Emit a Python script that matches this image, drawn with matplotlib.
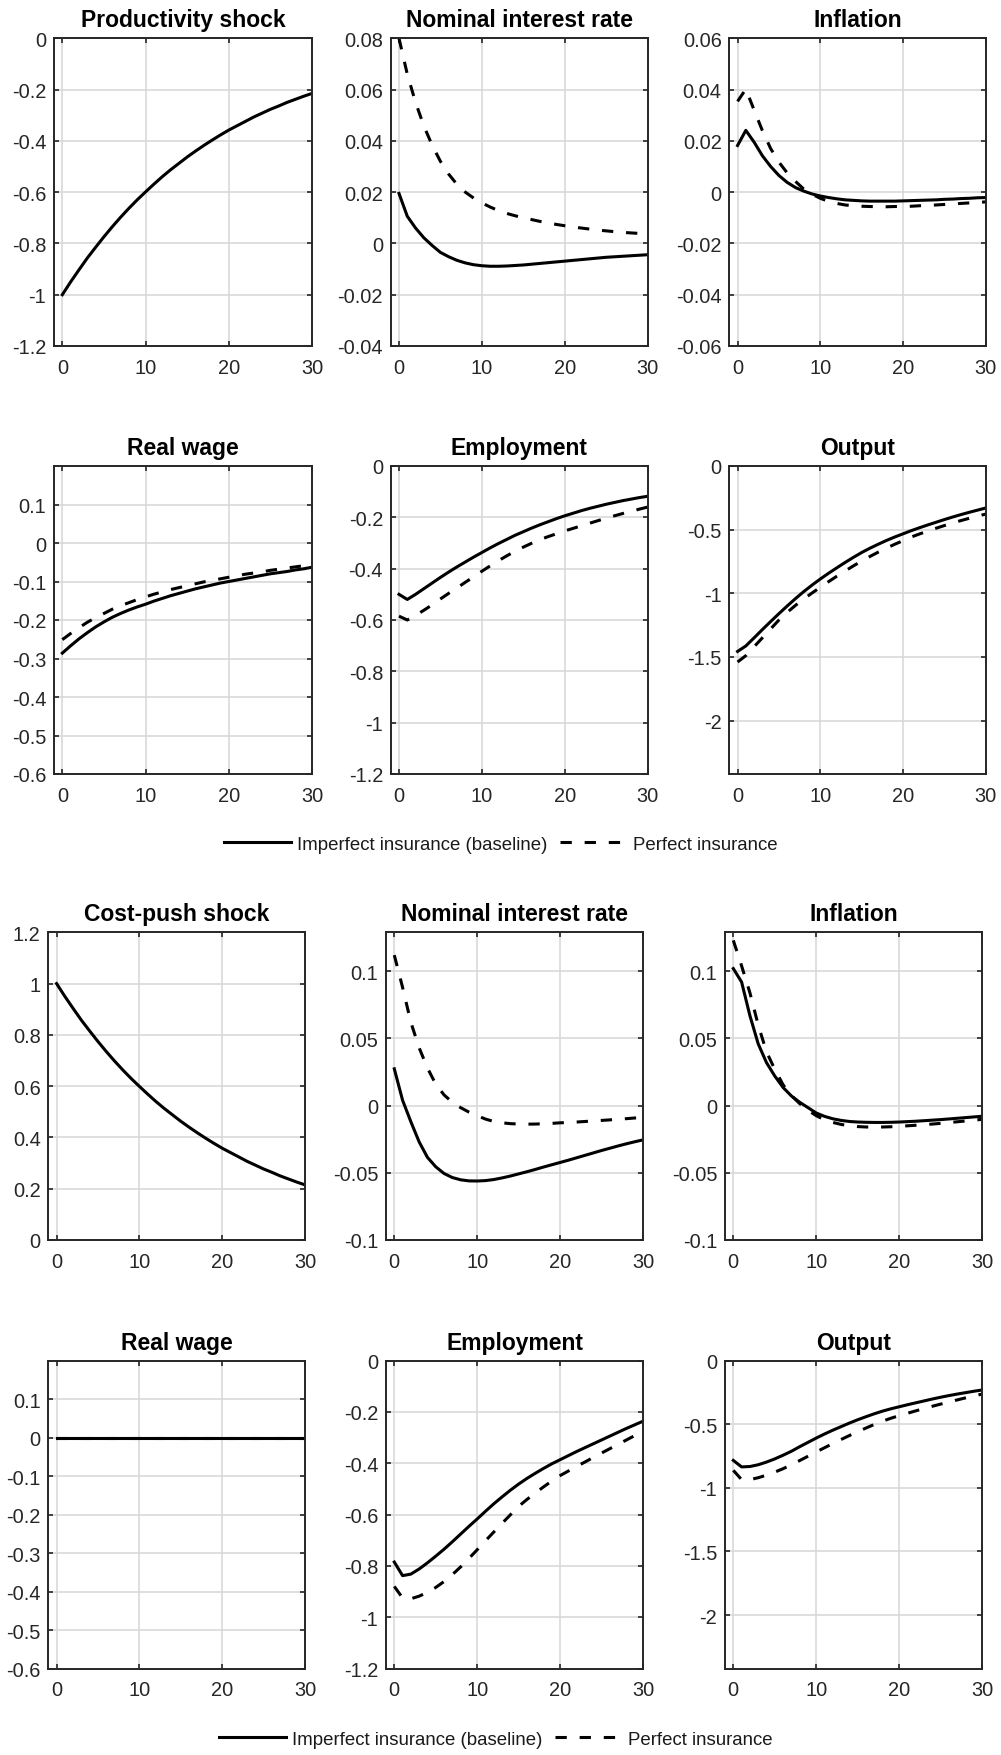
import matplotlib.pyplot as plt
from matplotlib.lines import Line2D
from matplotlib.ticker import FuncFormatter

plt.rcParams['font.family'] = ['Liberation Sans', 'DejaVu Sans']
plt.rcParams['axes.unicode_minus'] = False

horizon = list(range(31))

# ---- productivity shock ----
prod_shock = [-1.000, -0.950, -0.903, -0.857, -0.815, -0.774, -0.735, -0.698, -0.663, -0.630,
              -0.599, -0.569, -0.540, -0.513, -0.488, -0.463, -0.440, -0.418, -0.397, -0.377,
              -0.358, -0.341, -0.324, -0.307, -0.292, -0.277, -0.264, -0.250, -0.238, -0.226, -0.215]
p_rate_imp = [0.0195, 0.0106, 0.0060, 0.0022, -0.0008, -0.0035, -0.0052, -0.0066, -0.0076, -0.0083,
              -0.0087, -0.0089, -0.0089, -0.0088, -0.0086, -0.0084, -0.0081, -0.0078, -0.0075, -0.0072,
              -0.0069, -0.0066, -0.0063, -0.0060, -0.0057, -0.0054, -0.0052, -0.0050, -0.0048, -0.0046, -0.0044]
p_rate_perf = [0.0800, 0.0660, 0.0550, 0.0458, 0.0383, 0.0320, 0.0270, 0.0230, 0.0200, 0.0177,
               0.0158, 0.0142, 0.0128, 0.0117, 0.0108, 0.0100, 0.0093, 0.0086, 0.0080, 0.0074,
               0.0069, 0.0064, 0.0060, 0.0056, 0.0052, 0.0049, 0.0046, 0.0043, 0.0041, 0.0039, 0.0037]
p_infl_imp = [0.0182, 0.0241, 0.0195, 0.0142, 0.0100, 0.0065, 0.0038, 0.0018, 0.0004, -0.0007,
              -0.0015, -0.0021, -0.0026, -0.0030, -0.0032, -0.0034, -0.0035, -0.0035, -0.0035, -0.0035,
              -0.0034, -0.0033, -0.0032, -0.0031, -0.0030, -0.0028, -0.0027, -0.0025, -0.0024, -0.0022, -0.0021]
p_infl_perf = [0.0354, 0.0402, 0.0320, 0.0240, 0.0170, 0.0117, 0.0075, 0.0042, 0.0012, -0.0008,
               -0.0024, -0.0036, -0.0044, -0.0050, -0.0053, -0.0055, -0.0056, -0.0057, -0.0057, -0.0056,
               -0.0056, -0.0055, -0.0053, -0.0052, -0.0050, -0.0048, -0.0046, -0.0044, -0.0042, -0.0040, -0.0038]
p_wage_imp = [-0.286, -0.267, -0.249, -0.233, -0.218, -0.205, -0.193, -0.183, -0.174, -0.166,
              -0.159, -0.151, -0.144, -0.137, -0.131, -0.125, -0.119, -0.114, -0.109, -0.104,
              -0.100, -0.096, -0.092, -0.088, -0.084, -0.080, -0.077, -0.074, -0.070, -0.067, -0.063]
p_wage_perf = [-0.251, -0.235, -0.220, -0.206, -0.194, -0.183, -0.172, -0.163, -0.155, -0.147,
               -0.140, -0.133, -0.127, -0.121, -0.116, -0.111, -0.106, -0.101, -0.097, -0.093,
               -0.089, -0.085, -0.081, -0.078, -0.075, -0.071, -0.068, -0.065, -0.062, -0.059, -0.056]
p_emp_imp = [-0.500, -0.520, -0.500, -0.478, -0.456, -0.434, -0.413, -0.393, -0.374, -0.355,
             -0.337, -0.319, -0.302, -0.286, -0.270, -0.256, -0.242, -0.229, -0.217, -0.205,
             -0.194, -0.184, -0.174, -0.165, -0.157, -0.149, -0.142, -0.135, -0.129, -0.123, -0.118]
p_emp_perf = [-0.585, -0.600, -0.582, -0.562, -0.541, -0.518, -0.496, -0.475, -0.453, -0.432,
              -0.410, -0.389, -0.369, -0.350, -0.332, -0.316, -0.301, -0.287, -0.275, -0.264,
              -0.253, -0.243, -0.233, -0.223, -0.213, -0.203, -0.194, -0.185, -0.177, -0.168, -0.160]
p_out_imp = [-1.457, -1.414, -1.350, -1.285, -1.222, -1.160, -1.100, -1.042, -0.987, -0.936,
             -0.888, -0.843, -0.800, -0.758, -0.718, -0.680, -0.646, -0.615, -0.585, -0.558,
             -0.533, -0.508, -0.485, -0.463, -0.442, -0.421, -0.401, -0.382, -0.364, -0.347, -0.330]
p_out_perf = [-1.540, -1.490, -1.420, -1.350, -1.280, -1.210, -1.150, -1.095, -1.045, -0.998,
              -0.953, -0.909, -0.866, -0.825, -0.785, -0.747, -0.711, -0.677, -0.645, -0.615,
              -0.587, -0.558, -0.534, -0.511, -0.489, -0.468, -0.448, -0.429, -0.411, -0.394, -0.378]

# ---- cost-push shock ----
cost_shock = [1.000, 0.950, 0.903, 0.857, 0.815, 0.774, 0.735, 0.698, 0.663, 0.630,
              0.599, 0.569, 0.540, 0.513, 0.488, 0.463, 0.440, 0.418, 0.397, 0.377,
              0.358, 0.341, 0.324, 0.307, 0.292, 0.277, 0.264, 0.250, 0.238, 0.226, 0.215]
c_rate_imp = [0.0274, 0.0040, -0.0120, -0.0270, -0.0385, -0.0455, -0.0505, -0.0535, -0.0552, -0.0560,
              -0.0561, -0.0558, -0.0550, -0.0538, -0.0524, -0.0508, -0.0492, -0.0475, -0.0457, -0.0440,
              -0.0423, -0.0406, -0.0388, -0.0370, -0.0352, -0.0334, -0.0317, -0.0300, -0.0284, -0.0269, -0.0255]
c_rate_perf = [0.112, 0.088, 0.062, 0.043, 0.028, 0.016, 0.008, 0.0025, -0.0015, -0.0048,
               -0.0075, -0.0100, -0.0118, -0.0128, -0.0134, -0.0137, -0.0138, -0.0137, -0.0135, -0.0132,
               -0.0128, -0.0125, -0.0122, -0.0118, -0.0114, -0.0110, -0.0106, -0.0101, -0.0097, -0.0092, -0.0088]
c_infl_imp = [0.102, 0.092, 0.067, 0.046, 0.032, 0.022, 0.0135, 0.0072, 0.0025, -0.0015,
              -0.0055, -0.0080, -0.0098, -0.0110, -0.0118, -0.0122, -0.0124, -0.0125, -0.0125, -0.0124,
              -0.0122, -0.0119, -0.0116, -0.0112, -0.0108, -0.0104, -0.0099, -0.0094, -0.0089, -0.0084, -0.0079]
c_infl_perf = [0.123, 0.104, 0.084, 0.060, 0.040, 0.027, 0.0155, 0.0075, 0.0015, -0.0035,
               -0.0075, -0.0105, -0.0125, -0.0140, -0.0150, -0.0156, -0.0159, -0.0160, -0.0159, -0.0157,
               -0.0154, -0.0150, -0.0146, -0.0142, -0.0137, -0.0132, -0.0126, -0.0120, -0.0114, -0.0108, -0.0102]
c_wage_imp = [0.0] * 31
c_wage_perf = [0.0] * 31
c_emp_imp = [-0.785, -0.838, -0.832, -0.812, -0.788, -0.762, -0.735, -0.706, -0.676, -0.646,
             -0.617, -0.587, -0.558, -0.531, -0.505, -0.481, -0.459, -0.439, -0.420, -0.402,
             -0.386, -0.370, -0.354, -0.339, -0.324, -0.309, -0.294, -0.279, -0.264, -0.250, -0.236]
c_emp_perf = [-0.880, -0.925, -0.928, -0.918, -0.903, -0.884, -0.861, -0.834, -0.804, -0.771,
              -0.737, -0.702, -0.668, -0.634, -0.601, -0.568, -0.541, -0.516, -0.492, -0.469,
              -0.448, -0.430, -0.412, -0.395, -0.377, -0.360, -0.343, -0.326, -0.309, -0.292, -0.276]
c_out_imp = [-0.784, -0.835, -0.832, -0.818, -0.797, -0.772, -0.743, -0.712, -0.676, -0.642,
             -0.608, -0.576, -0.546, -0.518, -0.490, -0.464, -0.440, -0.417, -0.396, -0.378,
             -0.362, -0.346, -0.331, -0.316, -0.301, -0.287, -0.274, -0.262, -0.251, -0.240, -0.230]
c_out_perf = [-0.862, -0.935, -0.935, -0.920, -0.900, -0.876, -0.849, -0.818, -0.785, -0.751,
              -0.717, -0.684, -0.651, -0.619, -0.588, -0.558, -0.529, -0.501, -0.475, -0.452,
              -0.432, -0.413, -0.394, -0.376, -0.358, -0.341, -0.324, -0.308, -0.292, -0.277, -0.262]

legend_labels = ['Imperfect insurance (baseline)', 'Perfect insurance']

W, H = 1001, 1756
fig = plt.figure(figsize=(W / 100, H / 100), dpi=100)

LW = 2.2
DASH = (0, (3.7, 4.2))
fmt = FuncFormatter(lambda v, p: f'{round(v, 6) + 0:g}')


def panel(left, right, top, bottom, title, ylim, yticks):
    ax = fig.add_axes([left / W, 1 - bottom / H, (right - left) / W, (bottom - top) / H])
    ax.set_xlim(-1, 30)
    ax.set_xticks([0, 10, 20, 30])
    ax.set_ylim(*ylim)
    ax.set_yticks(yticks)
    ax.yaxis.set_major_formatter(fmt)
    ax.grid(True, color='#d6d6d6', linewidth=1.1)
    ax.set_axisbelow(True)
    ax.tick_params(direction='in', top=True, right=True, length=3.5, width=1.2,
                   colors='#262626', labelsize=14.4)
    ax.tick_params(axis='x', pad=8.5)
    ax.tick_params(axis='y', pad=5.5)
    for s in ax.spines.values():
        s.set_linewidth(1.4)
        s.set_color('#262626')
    ax.set_title(title, fontsize=16.5, fontweight='bold', pad=8.5)
    return ax


def draw(ax, imp, perf=None):
    if perf is not None:
        ax.plot(horizon, perf, color='black', lw=LW, ls=DASH)
    ax.plot(horizon, imp, color='black', lw=LW)


emp_ticks = [-1.2, -1, -0.8, -0.6, -0.4, -0.2, 0]
wage_ticks = [-0.6, -0.5, -0.4, -0.3, -0.2, -0.1, 0, 0.1]
out_ticks = [-2, -1.5, -1, -0.5, 0]
ci_ticks = [-0.1, -0.05, 0, 0.05, 0.1]

# top block: productivity shock
cols = [(54, 312), (390.7, 647.7), (729.3, 985.7)]
r1, r2 = (39.3, 347), (467, 775)
ax = panel(*cols[0], *r1, 'Productivity shock', (-1.2, 0), emp_ticks)
draw(ax, prod_shock)
ax = panel(*cols[1], *r1, 'Nominal interest rate', (-0.04, 0.08),
           [-0.04, -0.02, 0, 0.02, 0.04, 0.06, 0.08])
draw(ax, p_rate_imp, p_rate_perf)
ax = panel(*cols[2], *r1, 'Inflation', (-0.06, 0.06),
           [-0.06, -0.04, -0.02, 0, 0.02, 0.04, 0.06])
draw(ax, p_infl_imp, p_infl_perf)
ax = panel(*cols[0], *r2, 'Real wage', (-0.6, 0.2), wage_ticks)
draw(ax, p_wage_imp, p_wage_perf)
ax = panel(*cols[1], *r2, 'Employment', (-1.2, 0), emp_ticks)
draw(ax, p_emp_imp, p_emp_perf)
ax = panel(*cols[2], *r2, 'Output', (-2.42, 0), out_ticks)
draw(ax, p_out_imp, p_out_perf)

# bottom block: cost-push shock
cols = [(48.3, 305), (386, 643), (725, 982.3)]
r3, r4 = (933.3, 1241), (1361.7, 1669.5)
ax = panel(*cols[0], *r3, 'Cost-push shock', (0, 1.2), [0, 0.2, 0.4, 0.6, 0.8, 1, 1.2])
draw(ax, cost_shock)
ax = panel(*cols[1], *r3, 'Nominal interest rate', (-0.1, 0.129), ci_ticks)
draw(ax, c_rate_imp, c_rate_perf)
ax = panel(*cols[2], *r3, 'Inflation', (-0.1, 0.129), ci_ticks)
draw(ax, c_infl_imp, c_infl_perf)
ax = panel(*cols[0], *r4, 'Real wage', (-0.6, 0.2), wage_ticks)
draw(ax, c_wage_imp, c_wage_perf)
ax = panel(*cols[1], *r4, 'Employment', (-1.2, 0), emp_ticks)
draw(ax, c_emp_imp, c_emp_perf)
ax = panel(*cols[2], *r4, 'Output', (-2.42, 0), out_ticks)
draw(ax, c_out_imp, c_out_perf)

handles = [Line2D([], [], color='black', lw=LW),
           Line2D([], [], color='black', lw=LW, ls=DASH)]
for cx, cy in [(501, 845), (496, 1740)]:
    fig.legend(handles, legend_labels, loc='center', bbox_to_anchor=(cx / W, 1 - cy / H),
               ncol=2, frameon=False, fontsize=13.4, handlelength=3.6,
               handletextpad=0.3, columnspacing=0.7, labelcolor='#1a1a1a')

fig.savefig('out.png', dpi=100)
